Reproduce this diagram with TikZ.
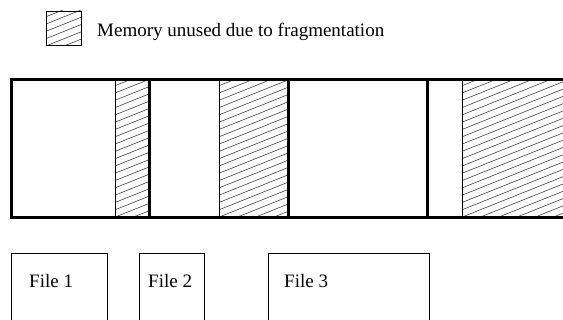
\documentclass[tikz,border=0pt]{standalone}
\usepackage{fontspec}
\setmainfont{Liberation Serif}
\begin{document}
\begin{tikzpicture}[x=1pt,y=-1pt,
  thick border/.style={line width=3pt},
  thin border/.style={line width=0.8pt},
  hatchline/.style={line width=0.6pt,black!75},
  label text/.style={font=\fontsize{19}{22}\selectfont,inner sep=0pt}]
\useasboundingbox (0,0) rectangle (563,320);
\clip (0,0) rectangle (563,320);
\newcommand{\myhatch}[4]{% x1,y1,x2,y2
  \begin{scope}
    \clip (#1,#2) rectangle (#3,#4);
    \foreach \k in {-60,-52.7,...,200} {
      \draw[hatchline] (#1,#2+\k) -- ++(120,-48);
    }
  \end{scope}}
% legend
\myhatch{46}{11}{81}{45}
\draw[thin border] (46,11) rectangle (81,45);
\node[label text,anchor=base west] (legend) at (97,36.7) {Memory unused due to fragmentation};
% hatched regions
\myhatch{115}{80}{149}{218}
\myhatch{219}{80}{288}{218}
\myhatch{462}{80}{570}{218}
\draw[thin border] (115,80) -- (115,218);
\draw[thin border] (219,80) -- (219,218);
\draw[thin border] (462,80) -- (462,218);
% memory strip
\draw[thick border] (570,80) -- (11,80) -- (11,218) -- (570,218);
\draw[thick border] (149,80) -- (149,218);
\draw[thick border] (288,80) -- (288,218);
\draw[thick border] (427,80) -- (427,218);
% files
\draw[thin border] (11,330) -- (11,253) -- (107,253) -- (107,330);
\draw[thin border] (139,330) -- (139,253) -- (204,253) -- (204,330);
\draw[thin border] (268,330) -- (268,253) -- (429,253) -- (429,330);
\node[label text,anchor=base west] (f1) at (29,287.7) {File 1};
\node[label text,anchor=base west] (f2) at (148,287.7) {File 2};
\node[label text,anchor=base west] (f3) at (284,287.7) {File 3};
\end{tikzpicture}
\end{document}
